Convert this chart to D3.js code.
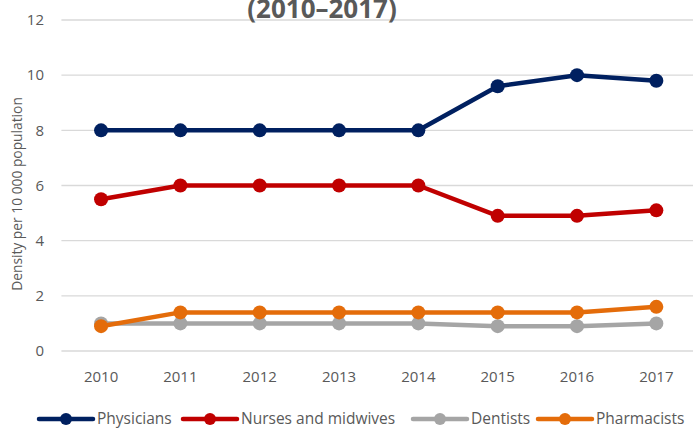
<!DOCTYPE html>
<html>
<head>
<meta charset="utf-8">
<script src="https://cdn.jsdelivr.net/npm/d3@7"></script>
<style>
  body { margin: 0; background: #fff; }
  svg { display: block; font-family: "Open Sans", "Liberation Sans", sans-serif; }
</style>
</head>
<body>
<svg id="chart" width="693" height="430"></svg>
<script>
const years = ["2010", "2011", "2012", "2013", "2014", "2015", "2016", "2017"];
const physicians = [8, 8, 8, 8, 8, 9.6, 10, 9.8];
const nurses = [5.5, 6, 6, 6, 6, 4.9, 4.9, 5.1];
const dentists = [1, 1, 1, 1, 1, 0.9, 0.9, 1];
const pharmacists = [0.9, 1.4, 1.4, 1.4, 1.4, 1.4, 1.4, 1.6];
const yTicks = [0, 2, 4, 6, 8, 10, 12];

// drawing order: dentists under pharmacists
const series = [
    {name: "Physicians", values: physicians, color: "#002060"},
    {name: "Nurses and midwives", values: nurses, color: "#C00000"},
    {name: "Dentists", values: dentists, color: "#A5A5A5"},
    {name: "Pharmacists", values: pharmacists, color: "#E46C0A"}
];

const svg = d3.select("#chart");
const plotLeft = 61.4, plotRight = 696, plotTop = 20, plotBottom = 351;

const x = d3.scaleBand().domain(years).range([plotLeft, plotRight]);
const y = d3.scaleLinear().domain([0, 12]).range([plotBottom, plotTop]);

// gridlines
svg.append("g")
    .selectAll("line")
    .data(yTicks)
    .join("line")
    .attr("x1", plotLeft)
    .attr("x2", plotRight)
    .attr("y1", d => y(d))
    .attr("y2", d => y(d))
    .style("stroke", "#D9D9D9")
    .style("stroke-width", 1.3);

// y tick labels
svg.append("g")
    .style("font-size", "15px")
    .style("fill", "#595959")
    .selectAll("text")
    .data(yTicks)
    .join("text")
    .attr("x", 44)
    .attr("y", d => y(d))
    .attr("dy", "0.35em")
    .attr("text-anchor", "end")
    .text(d => d);

// x tick labels
svg.append("g")
    .style("font-size", "15px")
    .style("fill", "#595959")
    .selectAll("text")
    .data(years)
    .join("text")
    .attr("x", d => x(d) + x.bandwidth() / 2)
    .attr("y", 377)
    .attr("dy", "0.35em")
    .attr("text-anchor", "middle")
    .text(d => d);

// y axis title
svg.append("text")
    .attr("transform", "translate(22,194) rotate(-90)")
    .attr("text-anchor", "middle")
    .style("font-size", "13.8px")
    .style("fill", "#595959")
    .text("Density per 10 000 population");

// chart title (top edge clipped, as in the source)
svg.append("text")
    .attr("x", 322)
    .attr("y", 18)
    .attr("text-anchor", "middle")
    .style("font-size", "26px")
    .style("font-weight", "bold")
    .style("fill", "#595959")
    .text("(2010\u20132017)");

const line = d3.line()
    .x((d, i) => x(years[i]) + x.bandwidth() / 2)
    .y(d => y(d));

const groups = svg.append("g")
    .selectAll("g")
    .data(series)
    .join("g");

groups.append("path")
    .attr("d", d => line(d.values))
    .style("fill", "none")
    .style("stroke", d => d.color)
    .style("stroke-width", 4.5)
    .style("stroke-linejoin", "round");

groups.selectAll("circle")
    .data(d => d.values.map((v, i) => ({v: v, i: i, color: d.color})))
    .join("circle")
    .attr("cx", d => x(years[d.i]) + x.bandwidth() / 2)
    .attr("cy", d => y(d.v))
    .attr("r", 7)
    .style("fill", d => d.color);

// legend
const legendX = [39, 183, 413, 538];
const legend = svg.append("g")
    .selectAll("g")
    .data(series)
    .join("g")
    .attr("transform", (d, i) => `translate(${legendX[i]},419)`);

legend.append("line")
    .attr("x1", 0)
    .attr("x2", 54)
    .style("stroke", d => d.color)
    .style("stroke-width", 4.5)
    .style("stroke-linecap", "round");

legend.append("circle")
    .attr("cx", 27)
    .attr("r", 6)
    .style("fill", d => d.color);

legend.append("text")
    .attr("x", 58)
    .attr("dy", "0.35em")
    .style("font-size", "15.5px")
    .style("fill", "#595959")
    .text(d => d.name);
</script>
</body>
</html>
